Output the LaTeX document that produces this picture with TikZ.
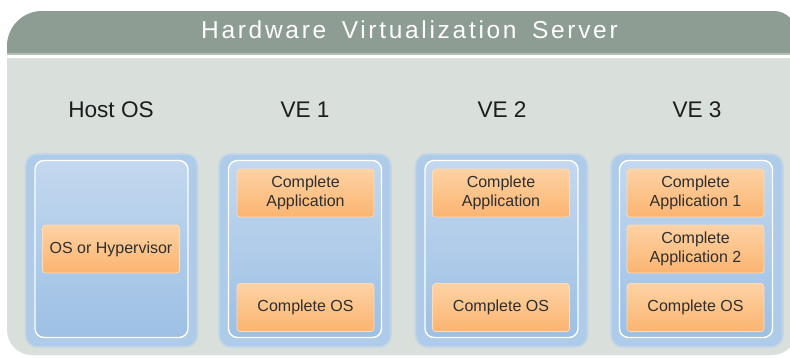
\documentclass[tikz,border=0pt]{standalone}
\usepackage{fontspec}
\setmainfont{Liberation Sans}
\newfontfamily\headfont[LetterSpace=11]{Liberation Sans}
\definecolor{panelc}{HTML}{D9DFDB}
\definecolor{headc}{HTML}{8D9D93}
\definecolor{headline}{HTML}{B4BFB8}
\definecolor{blueout}{HTML}{AECBEA}
\definecolor{blueedge}{HTML}{C3D5E6}
\definecolor{bluetop}{HTML}{C3D8EF}
\definecolor{bluebot}{HTML}{9DC0E4}
\definecolor{ortop}{HTML}{FDD2A4}
\definecolor{orbot}{HTML}{FBB470}
\definecolor{oredge}{HTML}{FDDCBA}
\definecolor{textc}{HTML}{2E2E2E}
\definecolor{labelc}{HTML}{1C1C1C}
\tikzset{
  outerbox/.style={draw=blueedge, line width=1.6pt, fill=blueout, rounded corners=12pt,
    minimum width=172pt, minimum height=193pt, inner sep=0pt},
  innerbox/.style={draw=white, line width=1.4pt, top color=bluetop, bottom color=bluebot,
    rounded corners=9pt, minimum width=153pt, minimum height=177pt, inner sep=0pt},
  comp/.style={draw=oredge, line width=0.7pt, top color=ortop, bottom color=orbot,
    rounded corners=3pt, minimum width=137pt, minimum height=48pt, inner sep=0pt,
    text=textc, font=\fontsize{16}{19.3}\selectfont, align=center},
  collabel/.style={font=\fontsize{22.6}{26}\selectfont, text=labelc, anchor=base},
  titlelabel/.style={font=\headfont\fontsize{24.5}{28}\selectfont, text=white, anchor=base}
}
\begin{document}
\begin{tikzpicture}[x=1pt,y=-1pt]
\useasboundingbox (0,0) rectangle (790,357);
\fill[white] (0,0) rectangle (790,357);
% panel
\fill[panelc, rounded corners=25pt] (7,58) rectangle (797,355);
\fill[panelc] (7,58) rectangle (80,110);
\fill[panelc] (700,58) rectangle (797,110);
% header
\begin{scope}
  \clip (0,0) rectangle (790,53);
  \fill[headc, rounded corners=35pt] (7,11) rectangle (400,120);
  \fill[headc, rounded corners=22pt] (300,11) rectangle (796,120);
\end{scope}
\fill[headline] (7,53) rectangle (790,54.6);
\node[titlelabel] (title) at (409.5,38.6) {Hardware\hspace{6pt} Virtualization\hspace{6pt} Server};

% column labels
\node[collabel] (lhost) at (111,117.3) {Host OS};
\node[collabel] (lve1) at (305,117.3) {VE 1};
\node[collabel] (lve2) at (502,117.3) {VE 2};
\node[collabel] (lve3) at (697,117.3) {VE 3};

% outer boxes
\node[outerbox] (host) at (111.5,250.5) {};
\node[outerbox] (ve1) at (305,250.5) {};
\node[outerbox] (ve2) at (501.5,250.5) {};
\node[outerbox] (ve3) at (697,250.5) {};

% inner boxes
\node[innerbox] (hostin) at (111.5,249) {};
\node[innerbox] (ve1in) at (305,249) {};
\node[innerbox] (ve2in) at (501.5,249) {};
\node[innerbox] (ve3in) at (696,249) {};

% components
\node[comp] (hostos) at (111,249) {OS or Hypervisor};
\node[comp] (ve1app) at (305.5,193) {Complete\\Application};
\node[comp] (ve1os) at (305.5,307.5) {Complete OS};
\node[comp] (ve2app) at (501,193) {Complete\\Application};
\node[comp] (ve2os) at (501,307.5) {Complete OS};
\node[comp] (ve3app1) at (695.5,193) {Complete\\Application 1};
\node[comp] (ve3app2) at (695.5,249) {Complete\\Application 2};
\node[comp] (ve3os) at (695.5,307.5) {Complete OS};
\end{tikzpicture}
\end{document}
